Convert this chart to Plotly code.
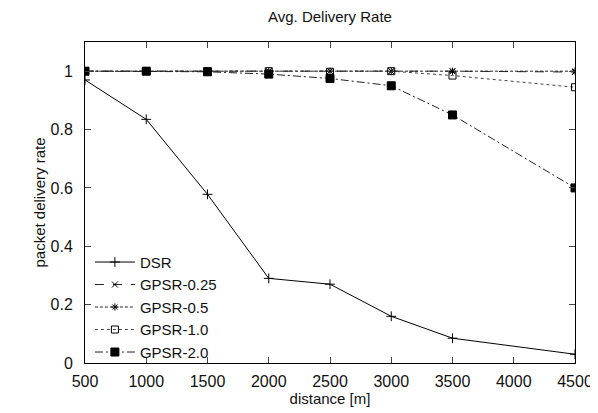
import plotly.graph_objects as go

distance = [500, 1000, 1500, 2000, 2500, 3000, 3500, 4500]
dsr = [0.97, 0.835, 0.578, 0.29, 0.27, 0.16, 0.085, 0.03]
gpsr_025 = [1.0, 1.0, 1.0, 1.0, 1.0, 1.0, 1.0, 0.997]
gpsr_05 = [1.0, 1.0, 1.0, 1.0, 1.0, 1.0, 1.0, 1.0]
gpsr_10 = [1.0, 1.0, 1.0, 1.0, 0.998, 1.0, 0.985, 0.945]
gpsr_20 = [1.0, 1.0, 0.998, 0.99, 0.975, 0.95, 0.85, 0.6]

x_ticks = [500, 1000, 1500, 2000, 2500, 3000, 3500, 4000, 4500]
y_ticks = [0, 0.2, 0.4, 0.6, 0.8, 1]
y_tick_labels = ["0", "0.2", "0.4", "0.6", "0.8", "1"]

series = [
    ("DSR", dsr, "solid", "cross-thin", 7, "black"),
    ("GPSR-0.25", gpsr_025, "dash", "x-thin", 6, "#222"),
    ("GPSR-0.5", gpsr_05, "3px,2px", "asterisk-open", 6, "#222"),
    ("GPSR-1.0", gpsr_10, "dot", "square-open", 7, "#444"),
    ("GPSR-2.0", gpsr_20, "8px,3px,2px,3px", "square", 8, "#222"),
]

fig = go.Figure()
for name, ys, dash, sym, size, col in series:
    fig.add_trace(go.Scatter(
        x=distance, y=ys, name=name, mode="lines+markers",
        line=dict(color=col, width=1, dash=dash),
        marker=dict(symbol=sym, size=size, color="black",
                    line=dict(color="black", width=1)),
    ))

font = "Liberation Sans, Arial, sans-serif"
# page body has an 8px default margin, so the figure is 8px smaller than the window
fig.update_layout(
    width=590, height=405,
    margin=dict(l=77, r=23, t=34, b=50, autoexpand=False),
    paper_bgcolor="white", plot_bgcolor="white",
    font=dict(family=font, size=16, color="#111"),
    title=dict(text="Avg. Delivery Rate", x=0.5, xref="paper", xanchor="center",
               y=1.0, yanchor="top", pad=dict(t=3, b=0),
               font=dict(size=15)),
    showlegend=True,
    legend=dict(x=0.01, y=-0.018, xanchor="left", yanchor="bottom",
                bgcolor="rgba(0,0,0,0)", font=dict(size=15),
                itemwidth=40, tracegroupgap=0),
)
fig.update_xaxes(
    range=[500, 4500], tickvals=x_ticks, ticks="inside", ticklen=6,
    showline=True, linecolor="black", linewidth=1, mirror="ticks",
    showgrid=False, zeroline=False, ticklabelstandoff=4,
    title=dict(text="distance [m]", font=dict(size=15), standoff=3),
)
fig.update_yaxes(
    range=[0, 1.1], tickvals=y_ticks, ticktext=y_tick_labels, ticks="inside",
    ticklen=6, showline=True, linecolor="black", linewidth=1, mirror="ticks",
    showgrid=False, zeroline=False, ticklabelstandoff=8,
    title=dict(text="packet delivery rate", font=dict(size=15), standoff=1),
)
fig.write_html("out.html")
